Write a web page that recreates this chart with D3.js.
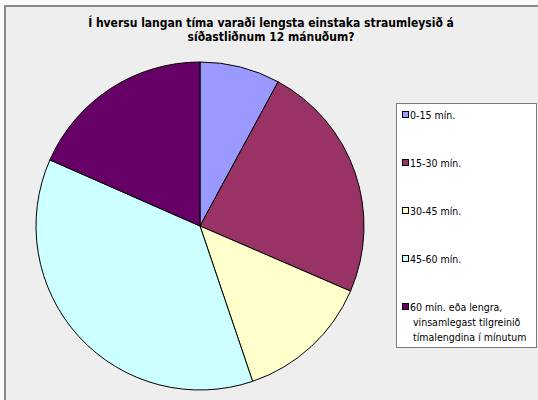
<!DOCTYPE html>
<html>
<head>
<meta charset="utf-8">
<script src="https://cdn.jsdelivr.net/npm/d3@7"></script>
<style>
  body { margin: 0; background: #fafafa; }
  svg { display: block; }
</style>
</head>
<body>
<div id="chart"></div>
<script>
var width = 538;
var height = 400;

// data (share of answers, %)
var categories = ["0-15 mín.", "15-30 mín.", "30-45 mín.", "45-60 mín.", "60 mín. eða lengra, vinsamlegast tilgreinið tímalengdina í mínutum"];
var values = [7.9, 23.6, 13.3, 36.8, 18.4];
var colors = ["#9999ff", "#993366", "#ffffcc", "#ccffff", "#660066"];
var legendLines = [["0-15 mín."], ["15-30 mín."], ["30-45 mín."], ["45-60 mín."],
                   ["60 mín. eða lengra,", "vinsamlegast tilgreinið", "tímalengdina í mínutum"]];
var titleLines = ["Í hversu langan tíma varaði lengsta einstaka straumleysið á", "síðastliðnum 12 mánuðum?"];

var svg = d3.select("#chart")
  .append("svg")
  .attr("width", width)
  .attr("height", height);

// chart area frame
svg.append("rect")
  .attr("x", 5).attr("y", 6)
  .attr("width", width + 10).attr("height", height + 10)
  .attr("fill", "#eeeeee")
  .attr("stroke", "#8a8a8a")
  .attr("stroke-width", 2);

// title
svg.append("text")
  .attr("text-anchor", "middle")
  .style("font-family", "'DejaVu Sans Condensed', 'DejaVu Sans', sans-serif")
  .style("font-stretch", "condensed")
  .style("font-weight", "bold")
  .style("font-size", "12px")
  .attr("fill", "#000")
  .selectAll("tspan")
  .data(titleLines)
  .enter()
  .append("tspan")
  .attr("x", 271)
  .attr("y", function(d, i) { return 27 + i * 14; })
  .text(function(d) { return d; });

// pie
var cx = 200, cy = 226, r = 164;
var pie = d3.pie().sort(null).value(function(d) { return d; });
var arc = d3.arc().innerRadius(0).outerRadius(r);

var g = svg.append("g")
  .attr("transform", "translate(" + cx + "," + cy + ")");

g.selectAll("path")
  .data(pie(values))
  .enter()
  .append("path")
  .attr("d", arc)
  .attr("fill", function(d, i) { return colors[i]; })
  .attr("stroke", "#000")
  .attr("stroke-width", 1)
  .attr("stroke-linejoin", "round");

// legend
var lx = 396, ly = 103, lw = 140, lh = 244;
svg.append("rect")
  .attr("x", lx + 0.5).attr("y", ly + 0.5)
  .attr("width", lw).attr("height", lh)
  .attr("fill", "#fff")
  .attr("stroke", "#7a7a7a")
  .attr("stroke-width", 1);

var itemY = d3.scalePoint()
  .domain(categories)
  .range([115, 307]);

var items = svg.selectAll(".legend-item")
  .data(categories)
  .enter()
  .append("g")
  .attr("class", "legend-item")
  .attr("transform", function(d) { return "translate(" + (lx + 6) + "," + itemY(d) + ")"; });

items.append("rect")
  .attr("x", 0.5).attr("y", -3.5)
  .attr("width", 6).attr("height", 6)
  .attr("fill", function(d, i) { return colors[i]; })
  .attr("stroke", "#000")
  .attr("stroke-width", 1);

items.append("text")
  .style("font-family", "'DejaVu Sans Condensed', 'DejaVu Sans', sans-serif")
  .style("font-stretch", "condensed")
  .style("font-size", "10.5px")
  .attr("fill", "#000")
  .selectAll("tspan")
  .data(function(d, i) { return legendLines[i]; })
  .enter()
  .append("tspan")
  .attr("x", function(d, i) { return i === 0 ? 8 : 11; })
  .attr("y", function(d, i) { return 3.5 + i * 15; })
  .text(function(d) { return d; });
</script>
</body>
</html>
